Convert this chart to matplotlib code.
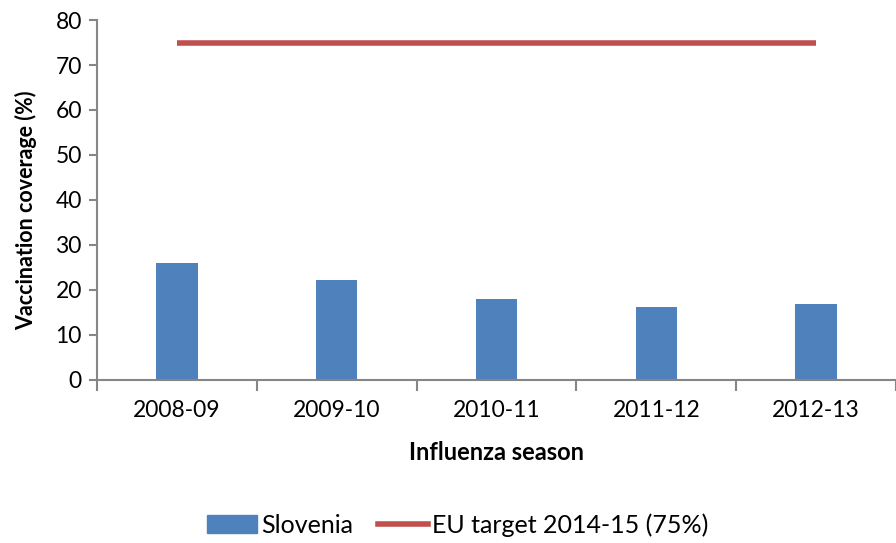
import matplotlib
matplotlib.use("Agg")
import matplotlib.pyplot as plt
from matplotlib.lines import Line2D
from matplotlib.patches import Patch

plt.rcParams["font.family"] = ["Lato", "DejaVu Sans"]

seasons = ["2008-09", "2009-10", "2010-11", "2011-12", "2012-13"]
slovenia = [26.0, 22.1, 18.0, 16.1, 16.8]
eu_target = [75, 75, 75, 75, 75]

BLUE = "#4f81bd"
RED = "#c0504d"
AXIS = "#868686"
FS = 16.5

fig = plt.figure(figsize=(8.96, 5.43), dpi=100)
ax = fig.add_axes([0.1083, 0.301, 0.8917, 0.662])

x = list(range(len(seasons)))
ax.bar(x, slovenia, width=0.26, color=BLUE, zorder=2)
ax.plot(x, eu_target, color=RED, lw=4, solid_capstyle="butt", zorder=3)

ax.set_xlim(-0.5, len(seasons) - 0.5)
ax.set_ylim(0, 80)
ax.set_yticks(range(0, 81, 10))
ax.set_xticks(x)
ax.set_xticklabels(seasons, fontsize=FS)
ax.set_xticks([i - 0.5 for i in range(len(seasons) + 1)], minor=True)
ax.tick_params(axis="x", which="major", length=0, pad=15)
ax.tick_params(axis="x", which="minor", length=8, width=1.5, color=AXIS, direction="out")
ax.tick_params(axis="y", labelsize=FS, length=6, width=1.5, color=AXIS, pad=5)

for side in ("top", "right"):
    ax.spines[side].set_visible(False)
for side in ("left", "bottom"):
    ax.spines[side].set_color(AXIS)
    ax.spines[side].set_linewidth(1.5)

ax.set_xlabel("Influenza season", fontsize=17, fontweight="bold", labelpad=14)
ax.set_ylabel("Vaccination coverage (%)", fontsize=15.5, fontweight="bold")
ax.yaxis.set_label_coords(-0.075, 0.47)

handles = [Patch(color=BLUE, label="Slovenia"),
           Line2D([], [], color=RED, lw=4, label="EU target 2014-15 (75%)")]
fig.legend(handles=handles, loc="center", bbox_to_anchor=(0.511, 0.033), ncol=2,
           frameon=False, fontsize=18, handlelength=2.0, handletextpad=0.15,
           columnspacing=1.0)

fig.savefig("out.png", dpi=100)
